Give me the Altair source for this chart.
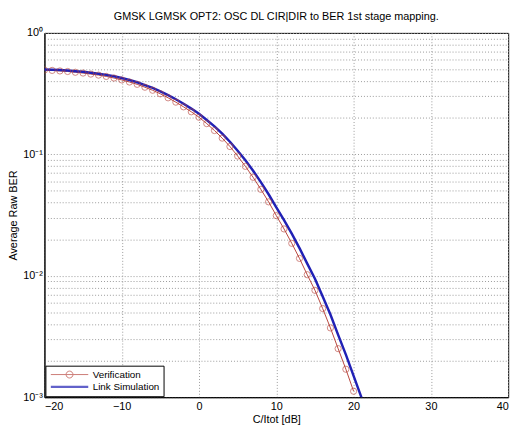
import altair as alt
import pandas as pd

title_text = "GMSK LGMSK OPT2: OSC DL CIR|DIR to BER 1st stage mapping."
x_title = "C/Itot [dB]"
y_title = "Average Raw BER"
series_names = ["Verification", "Link Simulation"]

ver_x = list(range(-20, 21))
ver_ber = [0.494, 0.491, 0.486, 0.481, 0.474, 0.467, 0.458, 0.449, 0.438, 0.425,
           0.410, 0.394, 0.377, 0.357, 0.337, 0.315, 0.292, 0.269, 0.246, 0.224,
           0.202, 0.179, 0.157, 0.136, 0.116, 0.0968, 0.0796, 0.0647, 0.0515, 0.0406,
           0.0313, 0.0243, 0.0185, 0.0139, 0.0102, 0.00759, 0.00537, 0.00372, 0.00251, 0.00170,
           0.00112]

sim_x = list(range(-20, 23))
sim_ber = [0.500, 0.498, 0.494, 0.490, 0.484, 0.478, 0.470, 0.461, 0.451, 0.439,
           0.425, 0.409, 0.392, 0.372, 0.352, 0.330, 0.307, 0.284, 0.261, 0.238,
           0.216, 0.192, 0.170, 0.148, 0.127, 0.107, 0.0893, 0.0733, 0.0590, 0.0469,
           0.0366, 0.0287, 0.0222, 0.0169, 0.0126, 0.00944, 0.00676, 0.00479, 0.00326, 0.00224,
           0.00150, 0.00100, 0.00066]

x_ticks = [-20, -10, 0, 10, 20, 30, 40]
decades = [0.001, 0.01, 0.1, 1]
y_ticks = [m * d for d in decades[:-1] for m in range(1, 10)] + [1]

df_ver = pd.DataFrame({"x": ver_x, "ber": ver_ber, "series": series_names[0]})
df_sim = pd.DataFrame({"x": sim_x, "ber": sim_ber, "series": series_names[1]})
df_all = pd.concat([df_ver, df_sim], ignore_index=True)

red = "#b8463e"
blue = "#2121b5"
FONT = "Liberation Sans"

legend_symbols = [
    "M-1,0L8.5,0M4.625,0A0.875,0.875 0 1,1 2.875,0A0.875,0.875 0 1,1 4.625,0",
    "M-1,0L8.5,0",
]

leg = alt.Legend(
    title=None,
    orient="bottom-left",
    offset=1,
    fillColor="white",
    strokeColor="#000000",
    padding=4,
    rowPadding=1,
    symbolSize=64,
    labelOffset=33,
    labelFont=FONT,
    labelFontSize=10,
    labelColor="#000000",
    symbolFillColor="transparent",
)

color_scale = alt.Scale(domain=series_names, range=[red, blue])
width_scale = alt.Scale(domain=series_names, range=[1, 2.5])
shape_scale = alt.Scale(domain=series_names, range=legend_symbols)

xenc = alt.X(
    "x:Q",
    scale=alt.Scale(domain=[-20, 40], nice=False, zero=False),
    axis=alt.Axis(values=x_ticks, title=x_title, grid=True, ticks=False,
                  labelPadding=4, titlePadding=2),
)
yenc = alt.Y(
    "ber:Q",
    scale=alt.Scale(type="log", domain=[0.001, 1], nice=False),
    axis=alt.Axis(
        values=y_ticks,
        title=y_title,
        grid=True,
        ticks=False,
        labelExpr="datum.value == 1 ? '10⁰' : datum.value == 0.1 ? '10⁻¹' : datum.value == 0.01 ? '10⁻²' : datum.value == 0.001 ? '10⁻³' : ''",
        labelPadding=2,
        titlePadding=4,
    ),
)

lines = alt.Chart(df_all).mark_line(clip=True).encode(
    x=xenc,
    y=yenc,
    color=alt.Color("series:N", scale=color_scale, legend=leg),
    strokeWidth=alt.StrokeWidth("series:N", scale=width_scale, legend=leg),
    order=alt.Order("x:Q"),
)
ver_pts = alt.Chart(df_ver).mark_point(shape="circle", filled=False, size=40, strokeWidth=0.9, clip=True, color=red).encode(
    x="x:Q", y="ber:Q")

# legend-only layer: its single point lies below the y domain and is clipped away
legend_layer = alt.Chart(df_sim[df_sim["ber"] < 0.001]).mark_point(filled=False, clip=True).encode(
    x="x:Q",
    y="ber:Q",
    color=alt.Color("series:N", scale=color_scale, legend=leg),
    shape=alt.Shape("series:N", scale=shape_scale, legend=leg),
    strokeWidth=alt.StrokeWidth("series:N", scale=width_scale, legend=leg),
)

chart = (
    alt.layer(lines, ver_pts, legend_layer)
    .properties(
        width=520,
        height=420,
        autosize=alt.AutoSizeParams(type="fit", contains="padding"),
        padding={"left": 0, "top": 0, "right": 12, "bottom": 0},
        title=alt.Title(title_text, font=FONT, fontSize=11, fontWeight="normal", color="#000000", offset=5),
    )
    .configure_view(stroke="#000000", strokeWidth=1)
    .configure_legend(symbolType=legend_symbols[1])
    .configure_axis(
        labelFont=FONT, labelFontSize=11, labelColor="#000000",
        titleFont=FONT, titleFontSize=11, titleFontWeight="normal", titleColor="#000000",
        domainColor="#000000", gridColor="#9a9a9a", gridDash=[1, 2], gridWidth=1,
    )
)

chart.save("out.html", embed_options={"renderer": "svg", "actions": False})
